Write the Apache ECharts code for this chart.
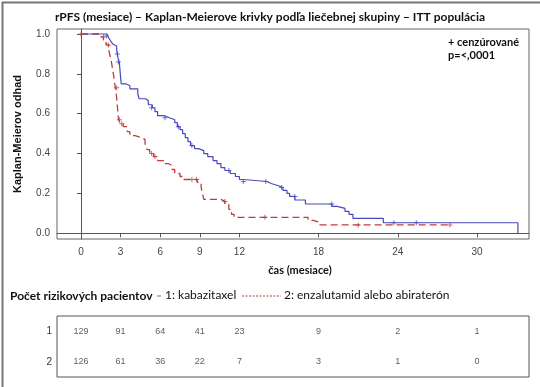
<!DOCTYPE html>
<html><head><meta charset="utf-8">
<script src="https://cdn.jsdelivr.net/npm/echarts@6/dist/echarts.min.js"></script>
<style>html,body{margin:0;padding:0;background:#fff}#c{width:540px;height:387px}</style>
</head><body><div id="c"></div>
<script>
// ---- data ----
const xTicks = [0, 3, 6, 9, 12, 18, 24, 30];
const yTicks = [0, 0.2, 0.4, 0.6, 0.8, 1.0];
// Kaplan-Meier steps [time, survival] group 1: kabazitaxel
const kmCabazitaxel = [[0,1.0],[1.95,0.99],[2.1,0.98],[2.25,0.965],[2.4,0.95],[2.55,0.94],[2.7,0.92],[2.8,0.88],[2.9,0.86],[2.95,0.82],[3.0,0.78],[3.05,0.75],[3.4,0.74],[3.7,0.725],[4.3,0.70],[4.4,0.675],[4.9,0.665],[5.1,0.645],[5.4,0.63],[5.6,0.61],[5.8,0.59],[6.3,0.58],[6.7,0.57],[7.1,0.555],[7.3,0.535],[7.5,0.52],[7.7,0.50],[7.9,0.48],[8.1,0.46],[8.3,0.44],[8.6,0.425],[8.9,0.415],[9.3,0.40],[9.6,0.385],[10.0,0.365],[10.3,0.35],[10.6,0.33],[10.9,0.315],[11.3,0.30],[11.7,0.285],[12.0,0.27],[12.3,0.26],[14.1,0.25],[14.4,0.24],[14.9,0.23],[15.3,0.215],[15.6,0.2],[15.8,0.185],[16.2,0.167],[17.0,0.147],[19.0,0.135],[19.4,0.125],[20.0,0.11],[20.3,0.095],[20.6,0.075],[22.9,0.053],[33.1,0.0]];
// group 2: enzalutamid alebo abiraterón
const kmEnzaAbi = [[0,1.0],[1.5,0.985],[1.7,0.97],[1.9,0.945],[2.1,0.92],[2.2,0.89],[2.3,0.86],[2.4,0.82],[2.5,0.78],[2.6,0.73],[2.7,0.68],[2.75,0.64],[2.8,0.6],[2.85,0.57],[3.0,0.55],[3.2,0.535],[3.5,0.51],[3.7,0.49],[4.1,0.48],[4.6,0.47],[4.85,0.45],[5.0,0.42],[5.2,0.40],[5.5,0.385],[5.8,0.365],[6.3,0.35],[6.6,0.34],[6.9,0.32],[7.1,0.30],[7.5,0.285],[7.8,0.27],[8.8,0.255],[9.1,0.23],[9.2,0.20],[9.3,0.17],[10.6,0.16],[10.9,0.145],[11.2,0.12],[11.4,0.095],[11.6,0.08],[17.2,0.065],[17.6,0.055],[18.1,0.042],[27.95,0.042]];
// censored marks
const censCabazitaxel = [[1.94,0.99],[2.75,0.9],[2.83,0.86],[5.35,0.63],[6.36,0.58],[7.37,0.535],[8.4,0.44],[11.2,0.315],[12.3,0.26],[14.0,0.26],[15.2,0.23],[16.2,0.185],[19.0,0.147],[23.7,0.053],[25.4,0.053]];
const censEnzaAbi = [[0,1.0],[1.7,0.985],[2.07,0.945],[2.7,0.73],[2.9,0.57],[3.08,0.55],[5.35,0.40],[5.6,0.385],[8.4,0.27],[8.76,0.27],[10.9,0.16],[13.94,0.08],[21.0,0.042],[27.95,0.042]];
// number at risk
const riskTimes = [0, 3, 6, 9, 12, 18, 24, 30];
const riskCabazitaxel = [129, 91, 64, 41, 23, 9, 2, 1];
const riskEnzaAbi = [126, 61, 36, 22, 7, 3, 1, 0];

const BLUE = '#4848c0', RED = '#c03c3c';
const plus = 'path://M4,0H6V4H10V6H6V10H4V6H0V4H4Z';
const riskData = [];
riskTimes.forEach((t, i) => { riskData.push([t, '1', riskCabazitaxel[i]]); riskData.push([t, '2', riskEnzaAbi[i]]); });

const chart = echarts.init(document.getElementById('c'), null, {renderer: 'canvas'});
chart.setOption({
  animation: false,
  title: {
    text: 'rPFS (mesiace) – Kaplan-Meierove krivky podľa liečebnej skupiny – ITT populácia',
    left: 'center', top: 6,
    textStyle: {fontFamily: 'Lato', fontWeight: 'bold', fontSize: 12, color: '#111'}
  },
  grid: [
    {left: 57, right: 11, top: 29, bottom: 148, show: true, borderColor: '#666', borderWidth: 1},
    {left: 57, right: 11, top: 316, height: 61, show: true, borderColor: '#555', borderWidth: 1}
  ],
  xAxis: [
    {type: 'value', gridIndex: 0, min: -1.82, max: 33.94,
     name: 'čas (mesiace)', nameLocation: 'middle', nameGap: 26,
     nameTextStyle: {fontFamily: 'Lato', fontWeight: 'bold', fontSize: 11, color: '#111', padding: [0, 0, 0, 14]},
     axisLine: {lineStyle: {color: '#555'}},
     axisTick: {show: true, length: 4, lineStyle: {color: '#555'}, customValues: xTicks},
     axisLabel: {customValues: xTicks, color: '#444', fontFamily: 'Liberation Sans', fontSize: 10, margin: 8},
     splitLine: {show: false}},
    {type: 'value', gridIndex: 1, min: -1.82, max: 33.94, show: false}
  ],
  yAxis: [
    {type: 'value', gridIndex: 0, min: -0.0286, max: 1.025,
     name: 'Kaplan-Meierov odhad', nameLocation: 'middle', nameGap: 34,
     nameTextStyle: {fontFamily: 'Liberation Sans', fontWeight: 'bold', fontSize: 11, color: '#111'},
     axisLine: {show: true, lineStyle: {color: '#555'}},
     axisTick: {show: true, length: 4, lineStyle: {color: '#555'}, customValues: yTicks},
     axisLabel: {customValues: yTicks, formatter: v => v.toFixed(1), color: '#444', fontFamily: 'Liberation Sans', fontSize: 10, margin: 7},
     splitLine: {show: false}},
    {type: 'category', gridIndex: 1, data: ['1', '2'], inverse: true,
     axisLine: {show: false}, axisTick: {show: false},
     axisLabel: {color: '#333', fontFamily: 'Liberation Sans', fontSize: 10, margin: 5}}
  ],
  series: [
    {type: 'line', xAxisIndex: 0, yAxisIndex: 0, step: 'end', data: kmCabazitaxel, showSymbol: false,
     lineStyle: {color: BLUE, width: 1.2}, z: 3},
    {type: 'line', xAxisIndex: 0, yAxisIndex: 0, step: 'end', data: kmEnzaAbi, showSymbol: false,
     lineStyle: {color: RED, width: 1.3, type: [7, 4]}, z: 2},
    {type: 'scatter', xAxisIndex: 0, yAxisIndex: 0, data: censCabazitaxel, symbol: plus, symbolSize: 5,
     itemStyle: {color: BLUE}, z: 4},
    {type: 'scatter', xAxisIndex: 0, yAxisIndex: 0, data: censEnzaAbi, symbol: plus, symbolSize: 5,
     itemStyle: {color: RED}, z: 4},
    {type: 'scatter', xAxisIndex: 1, yAxisIndex: 1, data: riskData, symbolSize: 0,
     label: {show: true, position: 'inside', formatter: p => String(p.value[2]),
             color: '#333', fontFamily: 'Liberation Sans', fontSize: 9}}
  ],
  graphic: [
    {type: 'rect', left: 0, top: 0, shape: {width: 539, height: 386}, style: {fill: 'none', stroke: '#777', lineWidth: 2}, silent: true},
    {type: 'text', left: 448, top: 36, style: {text: '+ cenzúrované\np=<,0001', font: 'bold 11px Lato', fill: '#111', lineHeight: 13}},
    {type: 'text', left: 10, top: 290, style: {text: 'Počet rizikových pacientov', font: 'bold 12px Lato', fill: '#111'}},
    {type: 'line', shape: {x1: 157, y1: 296, x2: 161, y2: 296}, style: {stroke: '#777', lineWidth: 1}},
    {type: 'text', left: 165, top: 289, style: {text: '1: kabazitaxel', font: '12px Lato', fill: '#111'}},
    {type: 'line', shape: {x1: 242, y1: 296, x2: 281, y2: 296}, style: {stroke: RED, lineWidth: 1, lineDash: [2, 1.5]}},
    {type: 'text', left: 284, top: 289, style: {text: '2: enzalutamid alebo abiraterón', font: '12px Lato', fill: '#111'}}
  ]
});
</script></body></html>
